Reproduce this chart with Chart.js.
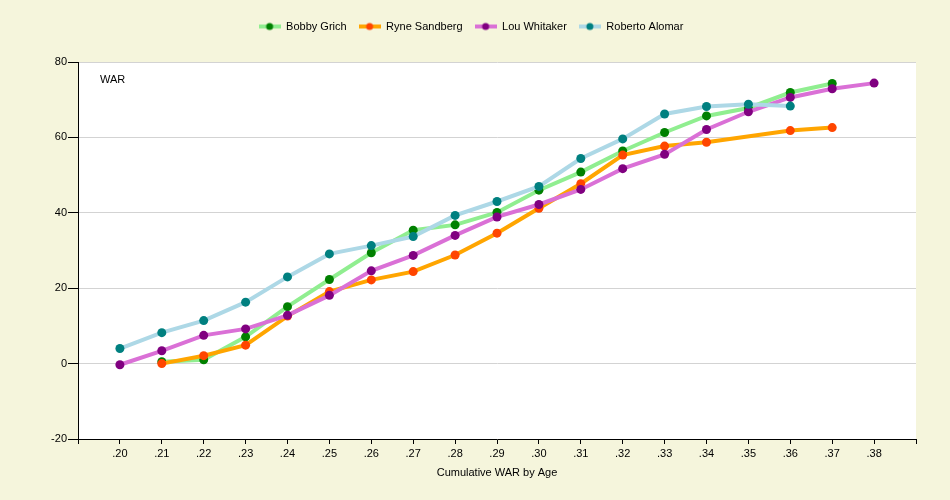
<!DOCTYPE html>
<html>
<head>
<meta charset="utf-8">
<script src="https://cdn.jsdelivr.net/npm/chart.js@4"></script>
<style>
html,body{margin:0;padding:0;background:#F5F5DC;}
#wrap{width:950px;height:500px;}
</style>
</head>
<body>
<div id="wrap"><canvas id="c" width="950" height="500"></canvas></div>
<script>
const ages = [20,21,22,23,24,25,26,27,28,29,30,31,32,33,34,35,36,37,38];
const tickLabels = ['.20','.21','.22','.23','.24','.25','.26','.27','.28','.29','.30','.31','.32','.33','.34','.35','.36','.37','.38'];
const seriesNames = ['Bobby Grich','Ryne Sandberg','Lou Whitaker','Roberto Alomar'];
const grich    = [null,0.5,1.0,7.1,15.1,22.3,29.4,35.4,36.8,40.1,46.0,50.8,56.4,61.3,65.7,67.8,71.9,74.3,null];
const sandberg = [null,0.0,2.1,4.9,12.6,19.1,22.2,24.4,28.8,34.6,41.2,47.7,55.3,57.7,58.7,null,61.8,62.6,null];
const whitaker = [-0.3,3.4,7.5,9.2,12.8,18.1,24.6,28.7,34.0,38.9,42.2,46.2,51.7,55.5,62.1,66.8,70.6,72.9,74.4];
const alomar   = [4.0,8.2,11.4,16.3,23.0,29.1,31.3,33.7,39.3,43.0,47.0,54.4,59.6,66.2,68.2,68.8,68.3,null,null];
const yTicks = [-20,0,20,40,60,80];

const lineColors = ['#90EE90','#FFA500','#DA70D6','#ADD8E6'];
const dotColors  = ['#008000','#FF4500','#800080','#008080'];
const allSeries = [grich, sandberg, whitaker, alomar];

function toPoints(arr){
  const out = [];
  arr.forEach((v,i)=>{ if(v!==null) out.push({x:ages[i], y:v}); });
  return out;
}

function legendIcon(lc, dc){
  const cv = document.createElement('canvas');
  cv.width = 22; cv.height = 10;
  const g = cv.getContext('2d');
  g.strokeStyle = lc; g.lineWidth = 4;
  g.beginPath(); g.moveTo(0,5); g.lineTo(22,5); g.stroke();
  g.fillStyle = dc;
  g.beginPath(); g.arc(11,5,3.5,0,Math.PI*2); g.fill();
  return cv;
}
const icons = lineColors.map((c,i)=>legendIcon(c, dotColors[i]));

const datasets = allSeries.map((arr,i)=>({
  label: seriesNames[i],
  data: toPoints(arr),
  borderColor: lineColors[i],
  backgroundColor: dotColors[i],
  pointBackgroundColor: dotColors[i],
  pointBorderColor: dotColors[i],
  pointBorderWidth: 0,
  pointRadius: 4.5,
  borderWidth: 4,
  tension: 0,
  spanGaps: true,
  order: 4 - i
}));

const bgPlugin = {
  id: 'bg',
  beforeDraw(chart){
    const {ctx, chartArea:a} = chart;
    ctx.save();
    ctx.fillStyle = '#F5F5DC';
    ctx.fillRect(0,0,chart.width,chart.height);
    ctx.fillStyle = '#FFFFFF';
    ctx.fillRect(a.left, a.top, a.right-a.left, a.bottom-a.top);
    ctx.restore();
  },
  afterDraw(chart){
    const {ctx, chartArea:a} = chart;
    ctx.save();
    ctx.fillStyle = '#000';
    ctx.font = '11px "Liberation Sans", Arial, sans-serif';
    ctx.textBaseline = 'middle';
    ctx.textAlign = 'left';
    ctx.fillText('WAR', a.left + 22, a.top + 18);
    ctx.restore();
  },
  beforeLayout(chart){
    const lg = chart.legend;
    if (lg && !lg._fixed){
      const f = lg.fit.bind(lg);
      lg.fit = function(){ f(); this.height = 53; };
      lg._fixed = true;
    }
  },
  afterLayout(chart){
    const lg = chart.legend;
    if (lg){ lg.left += 13; lg.right += 13; }
  }
};

Chart.defaults.font.family = '"Liberation Sans", Arial, sans-serif';
Chart.defaults.font.size = 11;
Chart.defaults.color = '#000';

new Chart(document.getElementById('c'), {
  type: 'line',
  data: { datasets },
  options: {
    responsive: false,
    animation: false,
    layout: { padding: { top: 9, left: 0, right: 34, bottom: 0 } },
    plugins: {
      legend: {
        position: 'top',
        labels: {
          usePointStyle: true,
          pointStyleWidth: 22,
          padding: 12,
          color: '#000',
          font: { size: 11 },
          generateLabels(chart){
            const items = Chart.defaults.plugins.legend.labels.generateLabels(chart);
            items.forEach((it)=>{ it.pointStyle = icons[it.datasetIndex]; });
            items.sort((a,b)=>a.datasetIndex-b.datasetIndex);
            return items;
          }
        }
      },
      tooltip: { enabled: false }
    },
    scales: {
      x: {
        type: 'linear',
        min: 19, max: 39,
        afterBuildTicks(s){ s.ticks = []; for(let v=19; v<=39; v++) s.ticks.push({value:v}); },
        afterFit(s){ s.height = 61; },
        ticks: {
          autoSkip: false,
          maxRotation: 0,
          padding: 3,
          color: '#000',
          callback(v){ const i = ages.indexOf(v); return i>=0 ? tickLabels[i] : ''; }
        },
        grid: { drawOnChartArea: false, tickLength: 5, tickColor: '#000', color: '#000' },
        border: { color: '#000', width: 1 },
        title: { display: true, text: 'Cumulative WAR by Age', color: '#000', font: { size: 11 }, padding: { top: 6, bottom: 20 } }
      },
      y: {
        min: -20, max: 80,
        afterBuildTicks(s){ s.ticks = yTicks.map(v=>({value:v})); },
        afterFit(s){ s.width = 78; },
        ticks: { padding: 1, color: '#000' },
        grid: {
          tickLength: 10,
          tickColor: '#000',
          color: (c)=> c.tick && c.tick.value === -20 ? 'rgba(0,0,0,0)' : '#D3D3D3'
        },
        border: { color: '#000', width: 1 }
      }
    }
  },
  plugins: [bgPlugin]
});
</script>
</body>
</html>
